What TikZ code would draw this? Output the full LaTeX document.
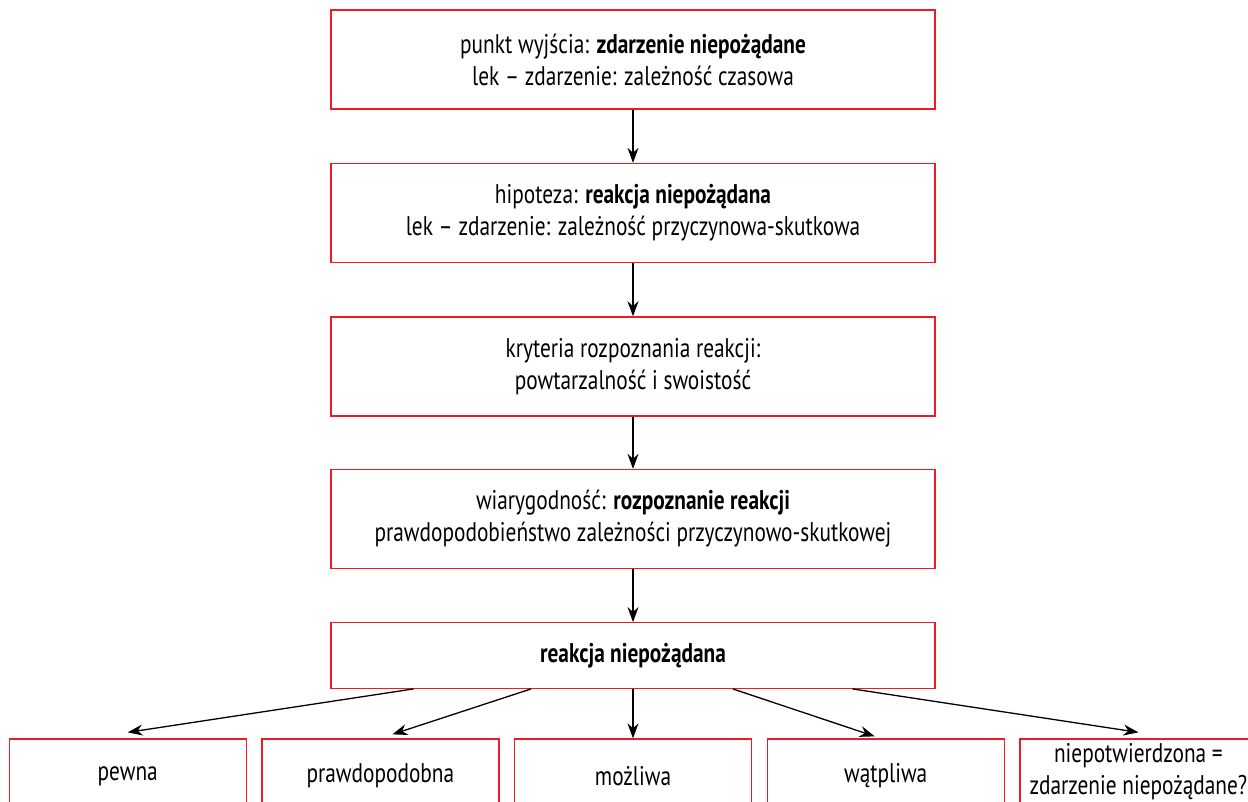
\documentclass[tikz,border=0pt]{standalone}
\usepackage{fontspec}
\setmainfont{PT Sans}[FakeStretch=0.79]
\usepackage{tikz}
\usetikzlibrary{arrows.meta}

\definecolor{boxred}{RGB}{237,28,36}

\begin{document}
\begin{tikzpicture}[x=1pt, y=-1pt,
    every node/.style={draw=boxred, line width=1.3pt, align=center, inner sep=0pt,
        font=\fontsize{27}{32}\selectfont},
    mainbox/.style={minimum width=604pt, minimum height=99pt},
    resultbox/.style={minimum width=237pt, minimum height=74pt},
    link/.style={draw, line width=1.3pt, -{Stealth[length=15pt, width=11pt]}}
    ]
    \useasboundingbox (0,0) rectangle (1248,801);
    \clip (0,0) rectangle (1248,801);

    % Main chain
    \node[mainbox] (start) at (633,59.5)
        {punkt wyjścia: \textbf{zdarzenie niepożądane}\\lek – zdarzenie: zależność czasowa};
    \node[mainbox] (hipoteza) at (633,213)
        {hipoteza: \textbf{reakcja niepożądana}\\lek – zdarzenie: zależność przyczynowa-skutkowa};
    \node[mainbox] (kryteria) at (633,366.4)
        {kryteria rozpoznania reakcji:\\powtarzalność i swoistość};
    \node[mainbox] (wiarygodnosc) at (633,519)
        {wiarygodność: \textbf{rozpoznanie reakcji}\\prawdopodobieństwo zależności przyczynowo-skutkowej};
    \node[mainbox, minimum height=65.5pt] (reakcja) at (633,655.5)
        {\textbf{reakcja niepożądana}};

    % Bottom row
    \node[resultbox] (pewna) at (127.7,776) {pewna};
    \node[resultbox] (prawdop) at (380.4,776) {prawdopodobna};
    \node[resultbox] (mozliwa) at (633,776) {możliwa};
    \node[resultbox] (watpliwa) at (885.7,776) {wątpliwa};
    \node[resultbox, minimum height=66pt] (niepotw) at (1138.4,772)
        {niepotwierdzona =\\zdarzenie niepożądane?};

    % Arrows
    \draw[link] (start) -- (hipoteza);
    \draw[link] (hipoteza) -- (kryteria);
    \draw[link] (kryteria) -- (wiarygodnosc);
    \draw[link] (wiarygodnosc) -- (reakcja);
    \draw[link] (reakcja) -- ([yshift=6pt]pewna.north);
    \draw[link] (reakcja) -- ([xshift=12pt, yshift=4pt]prawdop.north);
    \draw[link] (reakcja) -- (mozliwa);
    \draw[link] (reakcja) -- ([xshift=-11pt, yshift=2pt]watpliwa.north);
    \draw[link] (reakcja) -- ([yshift=6pt]niepotw.north);
\end{tikzpicture}
\end{document}
